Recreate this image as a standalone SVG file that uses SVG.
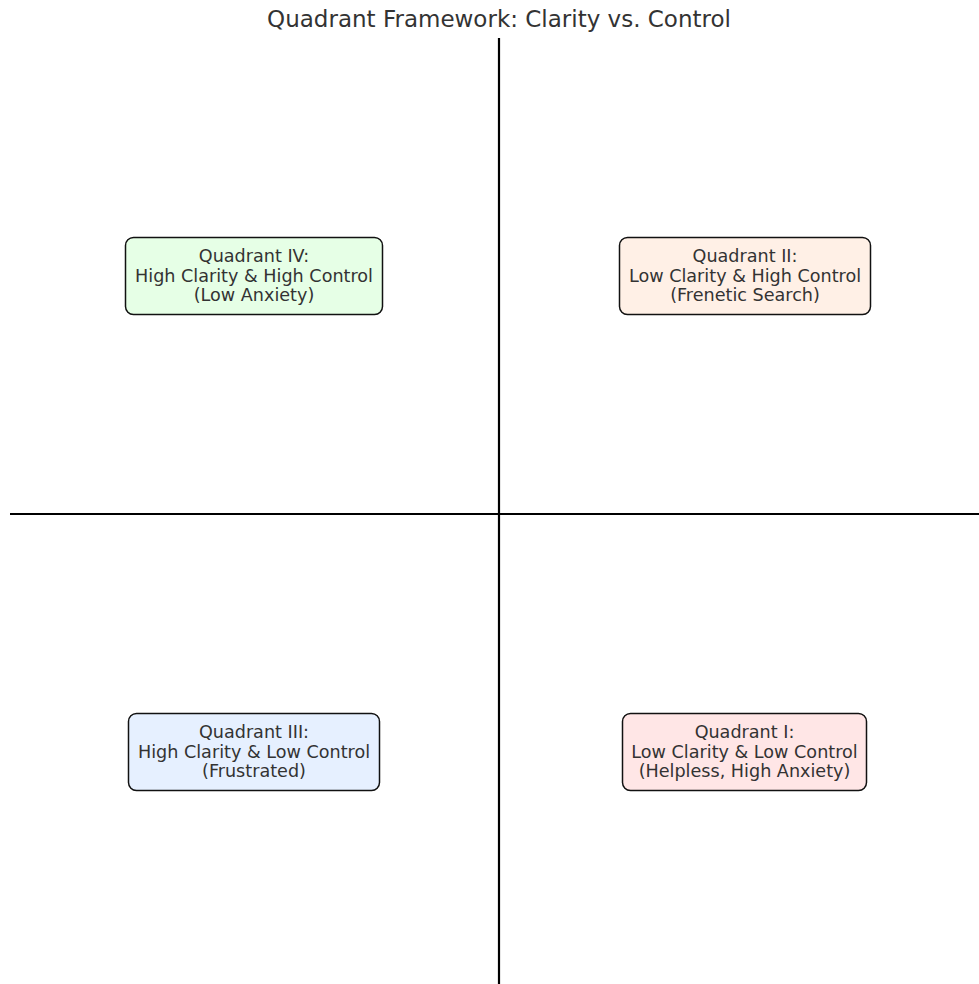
<svg xmlns="http://www.w3.org/2000/svg" width="979" height="984" viewBox="0 0 979 984">
<style>
text{font-family:"DejaVu Sans",sans-serif;fill:#333;text-anchor:middle}
.t{font-size:23px}
.l{font-size:17.6px}
.box{stroke:#111;stroke-width:1.5}
.ax{stroke:#000;stroke-width:2.2;fill:none}
</style>
<rect width="979" height="984" fill="#fff"/>
<text class="t" x="499" y="27">Quadrant Framework: Clarity vs. Control</text>
<g id="connectors">
<line class="ax" x1="499" y1="38" x2="499" y2="984"/>
<line class="ax" x1="10" y1="514" x2="979" y2="514"/>
</g>
<g id="q4">
<rect class="box" x="125.5" y="237.5" width="257" height="77" rx="8" fill="#e6ffe6"/>
<text class="l" x="254" y="262">Quadrant IV:</text>
<text class="l" x="254" y="281.5">High Clarity &amp; High Control</text>
<text class="l" x="254" y="301">(Low Anxiety)</text>
</g>
<g id="q2">
<rect class="box" x="619.5" y="237.5" width="251" height="77" rx="8" fill="#fff0e6"/>
<text class="l" x="745" y="262">Quadrant II:</text>
<text class="l" x="745" y="281.5">Low Clarity &amp; High Control</text>
<text class="l" x="745" y="301">(Frenetic Search)</text>
</g>
<g id="q3">
<rect class="box" x="128.5" y="713.5" width="251" height="77" rx="8" fill="#e6f0ff"/>
<text class="l" x="254" y="738">Quadrant III:</text>
<text class="l" x="254" y="757.5">High Clarity &amp; Low Control</text>
<text class="l" x="254" y="777">(Frustrated)</text>
</g>
<g id="q1">
<rect class="box" x="622.5" y="713.5" width="244" height="77" rx="8" fill="#ffe6e6"/>
<text class="l" x="744.5" y="738">Quadrant I:</text>
<text class="l" x="744.5" y="757.5">Low Clarity &amp; Low Control</text>
<text class="l" x="744.5" y="777">(Helpless, High Anxiety)</text>
</g>
</svg>
